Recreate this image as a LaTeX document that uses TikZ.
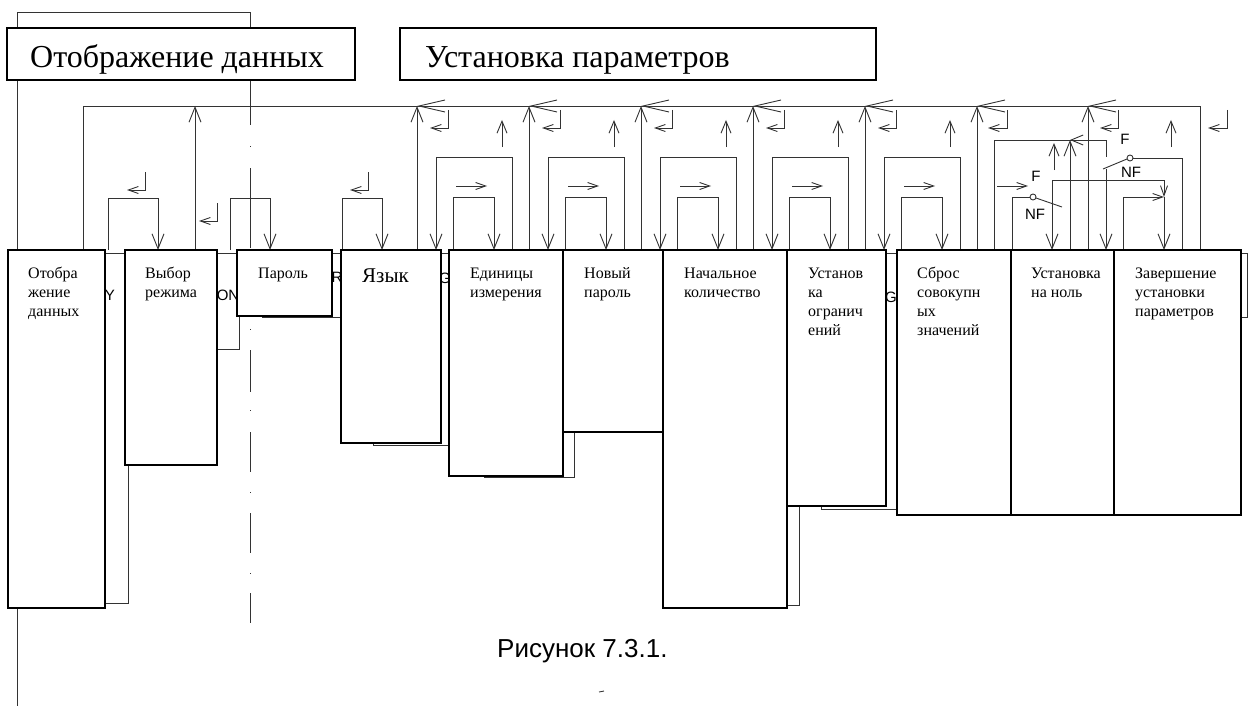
\documentclass[tikz,border=0pt]{standalone}
\usepackage{fontspec}
\setmainfont{Liberation Serif}
\newfontfamily\arialfont{Liberation Sans}
\usetikzlibrary{arrows.meta}

\begin{document}
\begin{tikzpicture}[x=1pt,y=-1pt,
  wire/.style={line width=0.9pt,black!80},
  blk/.style={line width=1.8pt,fill=white},
  bigv/.style={wire,-{Straight Barb[length=15pt,width=12pt]}},
  railv/.style={wire,-{Straight Barb[length=26pt,width=12pt]}},
  midv/.style={wire,-{Straight Barb[length=12pt,width=10pt]}},
  smallv/.style={wire,-{Straight Barb[length=10pt,width=7pt]}},
  htxt/.style={font=\fontsize{32}{34}\selectfont,inner sep=0pt,anchor=base west},
  lbl/.style={font=\fontsize{16}{19}\selectfont,align=left,anchor=north west,inner sep=0pt},
  sig/.style={font=\arialfont\fontsize{15}{15}\selectfont,inner sep=0pt}]
  \useasboundingbox (0,0) rectangle (1252,706);

  % frame and dash-dot divider
  \draw[wire] (17,706) -- (17,12) -- (250,12) -- (250,125);
  \foreach \a/\b in {146/147,168/248,329/330,350/392,410/411,432/472,492/493,513/553,573/574,593/623}
    \draw[wire] (250,\a) -- (250,\b);

  % headers
  \draw[blk] (7,28) rectangle (355,80);
  \node[htxt] (h1) at (30,68) {Отображение данных};
  \draw[blk] (400,28) rectangle (876,80);
  \node[htxt] (h2) at (425,68) {Установка параметров};

  % return rail
  \draw[wire] (83,250) -- (83,106) -- (1200,106) -- (1200,250);
  \draw[bigv] (195,250) -- (195,106);
  \foreach \x/\y in {145/172,217/203,368/172}
    \draw[smallv] (\x,\y) -- (\x,\y+18) -- (\x-18,\y+18);
  \foreach \l/\r in {108/158,230/270,342/382}
    \draw[bigv] (\l,250) -- (\l,198) -- (\r,198) -- (\r,250);

  % parameter groups
  \foreach \x in {417,529,641,753,865}{
    \draw[bigv] (\x,250) -- (\x,106);
    \draw[railv] (\x+30,106) -- (\x,106);
    \draw[smallv] (\x+31,110) -- (\x+31,128) -- (\x+13,128);
    \draw[midv] (\x+85,147) -- (\x+85,120);
    \draw[bigv] (\x+95,250) -- (\x+95,157) -- (\x+19,157) -- (\x+19,250);
    \draw[bigv] (\x+36,250) -- (\x+36,197) -- (\x+77,197) -- (\x+77,250);
    \draw[smallv] (\x+39,186) -- (\x+70,186);
  }

  % zero setting and end
  \draw[bigv] (977,250) -- (977,106);
  \draw[railv] (1007,106) -- (977,106);
  \draw[smallv] (1007,110) -- (1007,128) -- (988,128);
  \draw[wire] (994,250) -- (994,140) -- (1106,140) -- (1106,157);
  \draw[smallv] (997,186) -- (1028,186);
  \draw[wire] (1012,250) -- (1012,197) -- (1030,197);
  \draw[wire] (1033,197) circle (3);
  \draw[wire] (1036,198) -- (1062,207);
  \node[sig] (f1) at (1036,176) {F};
  \node[sig] (nf1) at (1035,214) {NF};
  \draw[midv] (1054,170) -- (1054,143);
  \draw[bigv] (1052,180) -- (1052,250);
  \draw[wire] (1052,180) -- (1164,180);
  \draw[smallv] (1164,180) -- (1164,197);
  \draw[bigv] (1070,250) -- (1070,140);
  \draw[midv] (1086,140) -- (1070,140);
  \draw[bigv] (1088,250) -- (1088,106);
  \draw[railv] (1118,106) -- (1088,106);
  \draw[smallv] (1118,110) -- (1118,128) -- (1100,128);
  \draw[wire] (1103,169) -- (1127,159);
  \draw[wire] (1130,158) circle (3);
  \draw[wire] (1133,158) -- (1182,158) -- (1182,250);
  \draw[bigv] (1106,169) -- (1106,250);
  \node[sig] (f2) at (1125,139) {F};
  \node[sig] (nf2) at (1131,172) {NF};
  \draw[smallv] (1123,250) -- (1123,197) -- (1164,197);
  \draw[bigv] (1164,197) -- (1164,250);
  \draw[midv] (1171,147) -- (1171,120);
  \draw[smallv] (1227,110) -- (1227,128) -- (1208,128);

  % shadows behind the blocks
  \foreach \l/\r/\b in {12/128/603,130/239/349,262/340/317,373/449/445,484/574/477,700/799/605,821/897/509,1150/1247/317}
    \draw[wire] (\l,253) rectangle (\r,\b);
  \node[sig] (sy) at (110,295) {Y};
  \node[sig] (son) at (228,295) {ON};
  \node[sig] (sr) at (337,277) {R};
  \node[sig] (sg1) at (445,278) {G};
  \node[sig] (sg2) at (891,297) {G};

  % blocks
  \draw[blk] (8,250) rectangle (105,608);
  \node[lbl] (b1) at (28,265) {\rule{0pt}{13pt}Отобра\\жение\\данных};
  \draw[blk] (125,250) rectangle (217,465);
  \node[lbl] (b2) at (145,265) {\rule{0pt}{13pt}Выбор\\режима};
  \draw[blk] (237,250) rectangle (332,316);
  \node[lbl] (b3) at (258,265) {\rule{0pt}{13pt}Пароль};
  \draw[blk] (341,250) rectangle (441,443);
  \node[lbl,font=\fontsize{21}{24}\selectfont] (b4) at (362,266) {\rule{0pt}{16pt}Язык};
  \draw[blk] (449,250) rectangle (563,476);
  \node[lbl] (b5) at (470,265) {\rule{0pt}{13pt}Единицы\\измерения};
  \draw[blk] (563,250) rectangle (663,432);
  \node[lbl] (b6) at (584,265) {\rule{0pt}{13pt}Новый\\пароль};
  \draw[blk] (663,250) rectangle (787,608);
  \node[lbl] (b7) at (684,265) {\rule{0pt}{13pt}Начальное\\количество};
  \draw[blk] (787,250) rectangle (886,506);
  \node[lbl] (b8) at (808,265) {\rule{0pt}{13pt}Установ\\ка\\огранич\\ений};
  \draw[blk] (897,250) rectangle (1011,515);
  \node[lbl] (b9) at (917,265) {\rule{0pt}{13pt}Сброс\\совокупн\\ых\\значений};
  \draw[blk] (1011,250) rectangle (1114,515);
  \node[lbl] (b10) at (1031,265) {\rule{0pt}{13pt}Установка\\на ноль};
  \draw[blk] (1114,250) rectangle (1241,515);
  \node[lbl] (b11) at (1135,265) {\rule{0pt}{13pt}Завершение\\установки\\параметров};

  % caption
  \node[font=\arialfont\fontsize{26}{26}\selectfont,inner sep=0pt,anchor=base west] (cap) at (497,657) {Рисунок 7.3.1.};
  \draw[wire] (599,692) -- (604,691);
\end{tikzpicture}
\end{document}
